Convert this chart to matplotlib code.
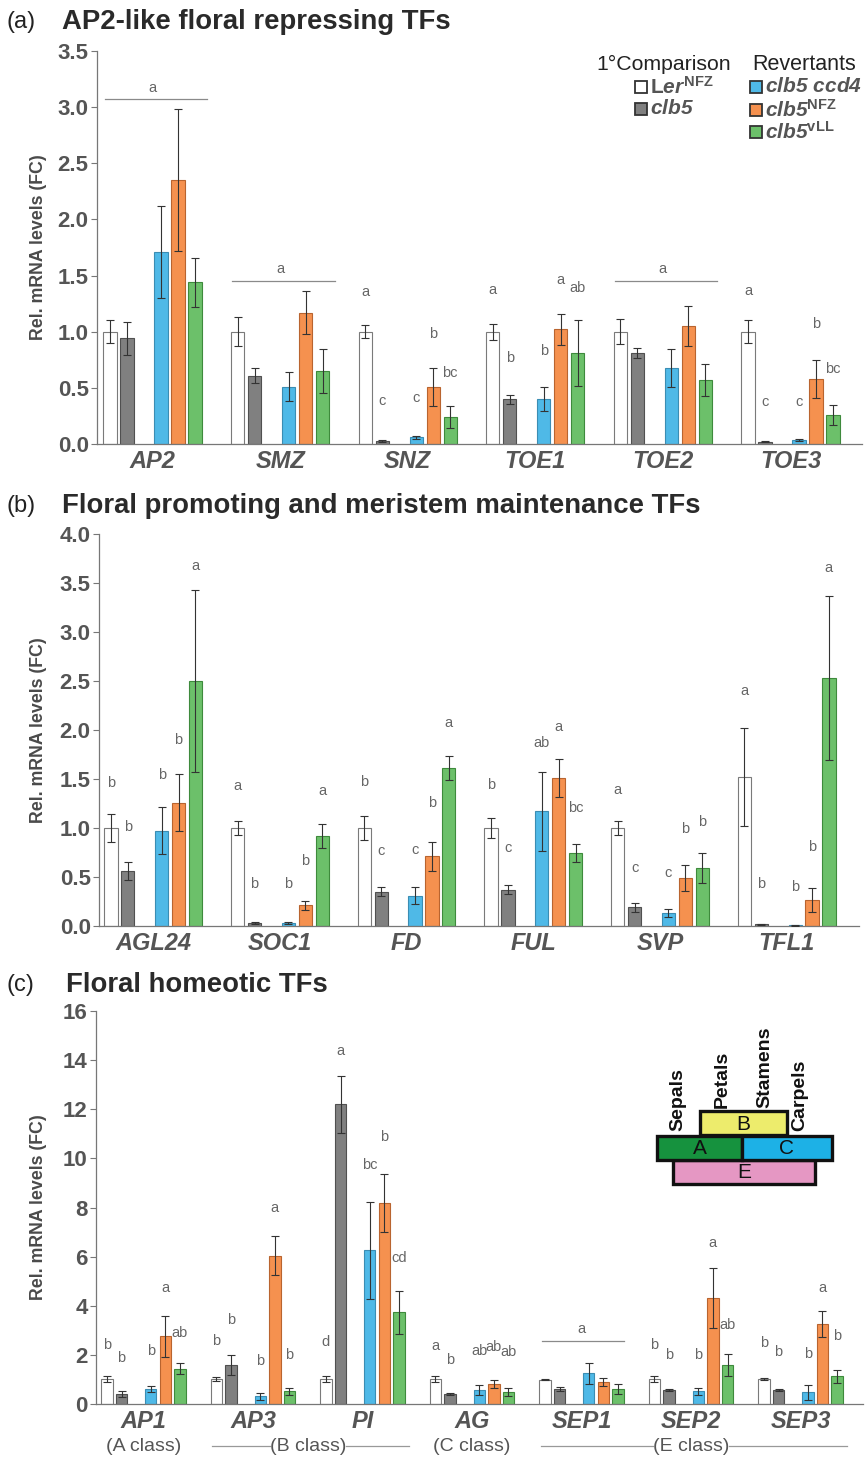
import numpy as np
import matplotlib
matplotlib.use('Agg')
import matplotlib.pyplot as plt
from matplotlib.patches import Rectangle
from matplotlib.transforms import blended_transform_factory

plt.rcParams['font.family'] = ['Liberation Sans', 'DejaVu Sans']
plt.rcParams['mathtext.fontset'] = 'custom'
plt.rcParams['mathtext.it'] = 'Liberation Sans:italic:bold'
plt.rcParams['mathtext.rm'] = 'Liberation Sans:italic:bold'   # digits in gene names italic too
plt.rcParams['mathtext.sf'] = 'Liberation Sans:bold'
plt.rcParams['mathtext.bf'] = 'Liberation Sans:bold'

W, H = 865, 1458

# ---- data ----------------------------------------------------------
# order inside each gene group: Ler NFZ, clb5, clb5 ccd4, clb5 NFZ, clb5 vLL
genes_a = ['AP2', 'SMZ', 'SNZ', 'TOE1', 'TOE2', 'TOE3']
mean_a = [[1.00, 0.94, 1.71, 2.35, 1.44],
          [1.00, 0.61, 0.51, 1.17, 0.65],
          [1.00, 0.03, 0.06, 0.51, 0.24],
          [1.00, 0.40, 0.40, 1.02, 0.81],
          [1.00, 0.81, 0.68, 1.05, 0.57],
          [1.00, 0.02, 0.035, 0.58, 0.26]]
err_a = [[0.10, 0.15, 0.41, 0.63, 0.22],
         [0.13, 0.07, 0.13, 0.19, 0.20],
         [0.06, 0.01, 0.015, 0.17, 0.10],
         [0.07, 0.04, 0.11, 0.14, 0.29],
         [0.11, 0.045, 0.17, 0.18, 0.14],
         [0.10, 0.005, 0.01, 0.17, 0.09]]
let_a = [None, None,
         ['a', 'c', 'c', 'b', 'bc'],
         ['a', 'b', 'b', 'a', 'ab'],
         None,
         ['a', 'c', 'c', 'b', 'bc']]
let_y_a = [None, None,
           [1.35, 0.38, 0.41, 0.98, 0.63],
           [1.37, 0.77, 0.83, 1.46, 1.39],
           None,
           [1.365, 0.37, 0.37, 1.07, 0.67]]
grp_a = {0: 3.07, 1: 1.45, 4: 1.45}   # one letter "a" for the whole group

genes_b = ['AGL24', 'SOC1', 'FD', 'FUL', 'SVP', 'TFL1']
mean_b = [[1.00, 0.56, 0.97, 1.26, 2.50],
          [1.00, 0.035, 0.03, 0.21, 0.92],
          [1.00, 0.35, 0.31, 0.71, 1.61],
          [1.00, 0.37, 1.17, 1.51, 0.745],
          [1.00, 0.19, 0.135, 0.49, 0.59],
          [1.52, 0.02, 0.007, 0.265, 2.53]]
err_b = [[0.14, 0.09, 0.24, 0.29, 0.93],
         [0.07, 0.01, 0.01, 0.05, 0.12],
         [0.12, 0.045, 0.085, 0.15, 0.12],
         [0.10, 0.045, 0.40, 0.19, 0.09],
         [0.07, 0.045, 0.04, 0.13, 0.15],
         [0.50, 0.005, 0.002, 0.12, 0.84]]
let_b = [['b', 'b', 'b', 'b', 'a'],
         ['a', 'b', 'b', 'b', 'a'],
         ['b', 'c', 'c', 'b', 'a'],
         ['b', 'c', 'ab', 'a', 'bc'],
         ['a', 'c', 'c', 'b', 'b'],
         ['a', 'b', 'b', 'b', 'a']]
let_y_b = [[1.46, 1.01, 1.54, 1.90, 3.67],
           [1.43, 0.43, 0.43, 0.66, 1.38],
           [1.47, 0.77, 0.78, 1.26, 2.07],
           [1.44, 0.80, 1.87, 2.03, 1.20],
           [1.39, 0.59, 0.54, 0.99, 1.06],
           [2.40, 0.43, 0.40, 0.81, 3.65]]
grp_b = {}

genes_c = ['AP1', 'AP3', 'PI', 'AG', 'SEP1', 'SEP2', 'SEP3']
mean_c = [[1.00, 0.41, 0.61, 2.76, 1.44],
          [1.00, 1.60, 0.31, 6.03, 0.51],
          [1.00, 12.2, 6.25, 8.17, 3.74],
          [1.02, 0.41, 0.58, 0.83, 0.49],
          [0.99, 0.61, 1.25, 0.89, 0.61],
          [1.02, 0.58, 0.51, 4.31, 1.59],
          [1.02, 0.58, 0.47, 3.25, 1.12]]
err_c = [[0.12, 0.11, 0.11, 0.84, 0.23],
         [0.08, 0.40, 0.13, 0.79, 0.14],
         [0.12, 1.17, 1.99, 1.18, 0.87],
         [0.11, 0.05, 0.20, 0.16, 0.15],
         [0.03, 0.09, 0.42, 0.16, 0.21],
         [0.14, 0.04, 0.14, 1.22, 0.45],
         [0.05, 0.05, 0.29, 0.54, 0.27]]
let_c = [['b', 'b', 'b', 'a', 'ab'],
         ['b', 'b', 'b', 'a', 'b'],
         ['d', 'a', 'bc', 'b', 'cd'],
         ['a', 'b', 'ab', 'ab', 'ab'],
         None,
         ['b', 'b', 'b', 'a', 'ab'],
         ['b', 'b', 'b', 'a', 'b']]
let_y_c = [[2.41, 1.87, 2.14, 4.74, 2.89],
           [2.55, 3.43, 1.76, 8.0, 2.0],
           [2.52, 14.38, 9.73, 10.88, 5.96],
           [2.37, 1.80, 2.14, 2.32, 2.10],
           None,
           [2.41, 2.0, 2.0, 6.54, 3.22],
           [2.48, 2.11, 2.05, 4.74, 2.75]]
grp_c = {4: 2.57}

classes = ['(A class)', '(B class)', '(C class)', '(E class)']
class_genes = [[0], [1, 2], [3], [4, 5, 6]]

legend_labels = [r'$\mathsf{L}\mathit{er}^{\mathsf{NFZ}}$', r'$\mathit{clb5}$',
                 r'$\mathit{clb5\ ccd4}$', r'$\mathit{clb5}^{\mathsf{NFZ}}$',
                 r'$\mathit{clb5}^{\mathsf{vLL}}$']

# ---- style ---------------------------------------------------------
face = ['white', '#808080', '#4FB9E7', '#F5914F', '#6CC06A']
edge = ['#7a7a7a', '#505050', '#3B8DB3', '#B9642F', '#3E8A3C']
offs = np.array([0, 1, 3, 4, 5])
step = 7.5
txt = '#555555'


def px(x, y):
    return (x / W, 1 - y / H)


def make_axes(left, right, top, bottom):
    return fig.add_axes([left / W, 1 - bottom / H, (right - left) / W, (bottom - top) / H])


def draw_panel(ax, genes, means, errs, lets, lets_y, grps, ylim, yticks, fmt, xlim,
               grp_span=(-0.3, 5.7)):
    means = np.array(means)
    errs = np.array(errs)
    base = np.arange(len(genes)) * step
    for k in range(5):
        ax.bar(base + offs[k], means[:, k], width=0.78, color=face[k], edgecolor=edge[k],
               linewidth=0.8, zorder=2)
        ax.errorbar(base + offs[k], means[:, k], yerr=errs[:, k], fmt='none',
                    ecolor='#333333', elinewidth=0.8, capsize=2.6, capthick=0.8, zorder=3)
    for g in range(len(genes)):
        if lets[g] is not None:
            for k in range(5):
                ax.text(base[g] + offs[k], lets_y[g][k], lets[g][k], ha='center',
                        va='center', fontsize=10.5, color='#666666')
    for g, yv in grps.items():
        ax.plot([base[g] + grp_span[0], base[g] + grp_span[1]], [yv, yv], color='#8a8a8a',
                lw=0.9, zorder=1)
        ax.text(base[g] + 2.5, yv + (ylim[1] * 0.012), 'a', ha='center', va='bottom',
                fontsize=10.5, color='#666666')
    ax.set_xlim(*xlim)
    ax.set_ylim(*ylim)
    ax.set_yticks(yticks)
    ax.set_yticklabels([fmt.format(v) for v in yticks], fontsize=16, fontweight='bold',
                       color=txt)
    ax.set_xticks(base + 2.5)
    ax.set_xticklabels(genes, fontsize=17, fontweight='bold', fontstyle='italic', color=txt)
    ax.tick_params(axis='x', length=0, pad=4)
    ax.tick_params(axis='y', length=4, width=0.8, color='#777777', pad=2)
    for s in ['top', 'right']:
        ax.spines[s].set_visible(False)
    for s in ['left', 'bottom']:
        ax.spines[s].set_color('#777777')
        ax.spines[s].set_linewidth(0.9)
    ax.set_ylabel('Rel. mRNA levels (FC)', fontsize=12.8, fontweight='bold', color='#4a4a4a')
    bb = ax.get_position()
    ax.yaxis.set_label_coords((47 / W - bb.x0) / bb.width, 0.5)
    return base


fig = plt.figure(figsize=(W / 100, H / 100), dpi=100)

# (a)
ax_a = make_axes(97, 862, 51, 444)
draw_panel(ax_a, genes_a, mean_a, err_a, let_a, let_y_a, grp_a, (0, 3.5),
           np.arange(0, 3.51, 0.5), '{:.1f}', (-0.76, 44.2))
# (b)
ax_b = make_axes(99, 859, 534, 926)
draw_panel(ax_b, genes_b, mean_b, err_b, let_b, let_y_b, grp_b, (0, 4.0),
           np.arange(0, 4.01, 0.5), '{:.1f}', (-0.71, 44.28))
# (c)
ax_c = make_axes(96, 863, 1011, 1404)
base_c = draw_panel(ax_c, genes_c, mean_c, err_c, let_c, let_y_c, grp_c, (0, 16),
                    np.arange(0, 16.1, 2), '{:.0f}', (-0.75, 51.78), grp_span=(-0.2, 5.4))

# class labels under panel (c)
tr = blended_transform_factory(ax_c.transData, ax_c.transAxes)
yc = -0.107
half = 2.6
for name, gs in zip(classes, class_genes):
    cx = (base_c[gs[0]] + base_c[gs[-1]]) / 2 + 2.5
    ax_c.text(cx, yc, name, transform=tr, ha='center', va='center', fontsize=14, color=txt)
    if len(gs) > 1:
        x0 = base_c[gs[0]] - 0.3
        x1 = base_c[gs[-1]] + 5.7
        ax_c.plot([x0, cx - half], [yc, yc], transform=tr, color='#999999', lw=0.9,
                  clip_on=False)
        ax_c.plot([cx + half, x1], [yc, yc], transform=tr, color='#999999', lw=0.9,
                  clip_on=False)

# panel letters and titles
for lab, title, y, tx in [('(a)', 'AP2-like floral repressing TFs', 22, 62),
                          ('(b)', 'Floral promoting and meristem maintenance TFs', 506, 62),
                          ('(c)', 'Floral homeotic TFs', 985, 66)]:
    fig.text(*px(7, y), lab, fontsize=17, color='#222222', va='center', ha='left')
    fig.text(*px(tx, y), title, fontsize=19.8, fontweight='bold', color='#2a2a2a',
             va='center', ha='left')

# legend
fig.text(*px(596, 64), '1°Comparison', fontsize=15.3, color='#222222', va='center')
fig.text(*px(752, 64), 'Revertants', fontsize=15.5, color='#222222', va='center')
leg_xy = [(635, 87), (635, 109), (750, 87), (750, 110), (750, 132)]
for (x, y), lab, fc in zip(leg_xy, legend_labels, face):
    fig.patches.append(Rectangle(px(x, y + 6), 12 / W, 12 / H, transform=fig.transFigure,
                                 facecolor=fc, edgecolor='#333333', lw=1.3))
    fig.text(*px(x + 15, y), lab, fontsize=15, color=txt, va='center', ha='left')

# ABC model diagram
boxes = [('E', 673, 1160, 815, 1184, '#E597C3'),
         ('A', 657, 1136, 742, 1160, '#16923E'),
         ('C', 742, 1136, 832, 1160, '#1DB1E6'),
         ('B', 700, 1111, 787, 1135, '#EDEC6C')]
for letter, x0, y0, x1, y1, col in boxes:
    fig.patches.append(Rectangle(px(x0, y1), (x1 - x0) / W, (y1 - y0) / H,
                                 transform=fig.transFigure, facecolor=col,
                                 edgecolor='#111111', lw=2.4))
    fig.text(*px((x0 + x1) / 2, (y0 + y1) / 2 + 1), letter, fontsize=15, color='#111111',
             ha='center', va='center')
for organ, x, y in [('Sepals', 678, 1131), ('Petals', 722, 1108),
                    ('Stamens', 765, 1108), ('Carpels', 800, 1131)]:
    fig.text(*px(x, y), organ, rotation=90, fontsize=14, fontweight='bold', color='#111111',
             ha='center', va='bottom')

fig.savefig('out.png', dpi=100)
